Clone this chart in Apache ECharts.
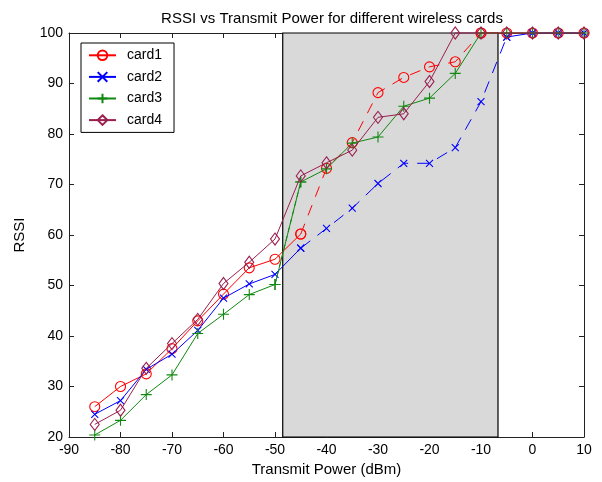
<!DOCTYPE html>
<html>
<head>
<meta charset="utf-8">
<script src="https://cdn.jsdelivr.net/npm/echarts@6/dist/echarts.min.js"></script>
<style>
  html, body { margin: 0; padding: 0; background: #ffffff; }
  #chart { width: 602px; height: 482px; }
</style>
</head>
<body>
<div id="chart"></div>
<script>
// ---- data ----
const txPower = [-85, -80, -75, -70, -65, -60, -55, -50, -45, -40, -35, -30, -25, -20, -15, -10, -5, 0, 5, 10];
const card1 = [26, 30, 32.5, 37.5, 43, 48.3, 53.5, 55.2, 60.2, 73.2, 78.3, 88.2, 91.2, 93.3, 94.3, 100, 100, 100, 100, 100];
const card2 = [24.5, 27.2, 33.4, 36.4, 41.1, 47.5, 50.3, 52.2, 57.4, 61.3, 65.3, 70.2, 74.2, 74.2, 77.3, 86.4, 99.2, 100, 100, 100];
const card3 = [20.4, 23.3, 28.4, 32.3, 40.5, 44.3, 48.2, 50.2, 70.5, 73.1, 78.2, 79.4, 85.5, 87.1, 92, 100, 100, 100, 100, 100];
const card4 = [22.5, 25.3, 33.6, 38.5, 43.3, 50.4, 54.6, 59.2, 71.7, 74.3, 76.8, 83.3, 84, 90.4, 100, 100, 100, 100, 100, 100];
const seriesNames = ['card1', 'card2', 'card3', 'card4'];
const shadedRange = [-48.5, -6.7];
const xTicks = { min: -90, max: 10, interval: 10 };
const yTicks = { min: 20, max: 100, interval: 10 };

// ---- styles ----
const FONT = 'Liberation Sans';
const styles = [
  { color: '#ff0000', symbol: 'circle', size: 10, dash: [11, 9] },
  { color: '#0000ff', symbol: 'path://M0,0L10,10M10,0L0,10', size: 7, dash: [12, 9] },
  { color: '#118811', symbol: 'path://M5,0L5,10M0,5L10,5', size: 11, dash: [5, 4] },
  { color: '#9a1f4f', symbol: 'diamond', size: [9, 12], dash: null }
];
// dashed segments (index ranges into txPower)
const dashRanges = [[8, 15], [8, 16], [7, 8], null];
const allData = [card1, card2, card3, card4];

function pairs(vals, keep) {
  return txPower.map((x, i) => keep(i) ? [x, vals[i]] : [x, null]);
}

const series = [{
  type: 'line', name: '_shade', data: [], z: 1, silent: true,
  markArea: {
    silent: true,
    itemStyle: { color: '#d9d9d9', borderColor: '#000000', borderWidth: 1.2 },
    data: [[{ xAxis: shadedRange[0] }, { xAxis: shadedRange[1] }]]
  }
}];

function makeSeries(k, name, data, lineType) {
  const st = styles[k];
  return {
    type: 'line', name: name,
    symbol: st.symbol, symbolSize: st.size, showSymbol: true,
    connectNulls: false, animation: false, z: 3 + k, color: st.color,
    clip: false,
    itemStyle: { color: 'none', borderColor: st.color, borderWidth: 1.1 },
    lineStyle: { color: st.color, width: 1, type: lineType },
    emphasis: { disabled: true },
    data: data
  };
}

allData.forEach((vals, k) => {
  const r = dashRanges[k];
  if (!r) {
    series.push(makeSeries(k, seriesNames[k], pairs(vals, () => true), 'solid'));
  } else {
    series.push(makeSeries(k, seriesNames[k], pairs(vals, i => i <= r[0] || i >= r[1]), 'solid'));
  }
});
allData.forEach((vals, k) => {
  const r = dashRanges[k];
  if (!r) return;
  series.push(makeSeries(k, seriesNames[k] + ' ', pairs(vals, i => i >= r[0] && i <= r[1]), styles[k].dash));
});

const axisCommon = {
  type: 'value',
  axisLine: { show: true, onZero: false, lineStyle: { color: '#222222', width: 1 } },
  axisTick: { show: true, inside: true, length: 5, lineStyle: { color: '#222222' } },
  splitLine: { show: false }
};

const chart = echarts.init(document.getElementById('chart'), null, { renderer: 'canvas' });
chart.setOption({
  backgroundColor: '#ffffff',
  animation: false,
  title: {
    text: 'RSSI vs Transmit Power for different wireless cards',
    left: 327, top: 6, textAlign: 'center',
    textStyle: { fontFamily: FONT, fontSize: 15, fontWeight: 'normal', color: '#000' }
  },
  grid: { left: 69, right: 18, top: 33, bottom: 42, containLabel: false },
  legend: {
    data: seriesNames,
    orient: 'vertical',
    left: 81, top: 43,
    itemWidth: 27, itemHeight: 12, itemGap: 7,
    padding: [5, 12, 5, 7],
    borderColor: '#000', borderWidth: 1, backgroundColor: '#fff',
    textStyle: { fontFamily: FONT, fontSize: 14, color: '#000', padding: [0, 0, 0, 6] }
  },
  xAxis: [
    Object.assign({}, axisCommon, {
      min: xTicks.min, max: xTicks.max, interval: xTicks.interval,
      name: 'Transmit Power (dBm)', nameLocation: 'middle', nameGap: 25,
      nameTextStyle: { fontFamily: FONT, fontSize: 15, color: '#000' },
      axisLabel: { fontFamily: FONT, fontSize: 14, color: '#000', margin: 6 }
    }),
    Object.assign({}, axisCommon, {
      position: 'top', min: xTicks.min, max: xTicks.max, interval: xTicks.interval,
      axisLabel: { show: false }
    })
  ],
  yAxis: [
    Object.assign({}, axisCommon, {
      min: yTicks.min, max: yTicks.max, interval: yTicks.interval,
      name: 'RSSI', nameLocation: 'middle', nameGap: 42,
      nameTextStyle: { fontFamily: FONT, fontSize: 15, color: '#000' },
      axisLabel: { fontFamily: FONT, fontSize: 14, color: '#000', margin: 6 }
    }),
    Object.assign({}, axisCommon, {
      position: 'right', min: yTicks.min, max: yTicks.max, interval: yTicks.interval,
      axisLabel: { show: false }
    })
  ],
  series: series
});
</script>
</body>
</html>
